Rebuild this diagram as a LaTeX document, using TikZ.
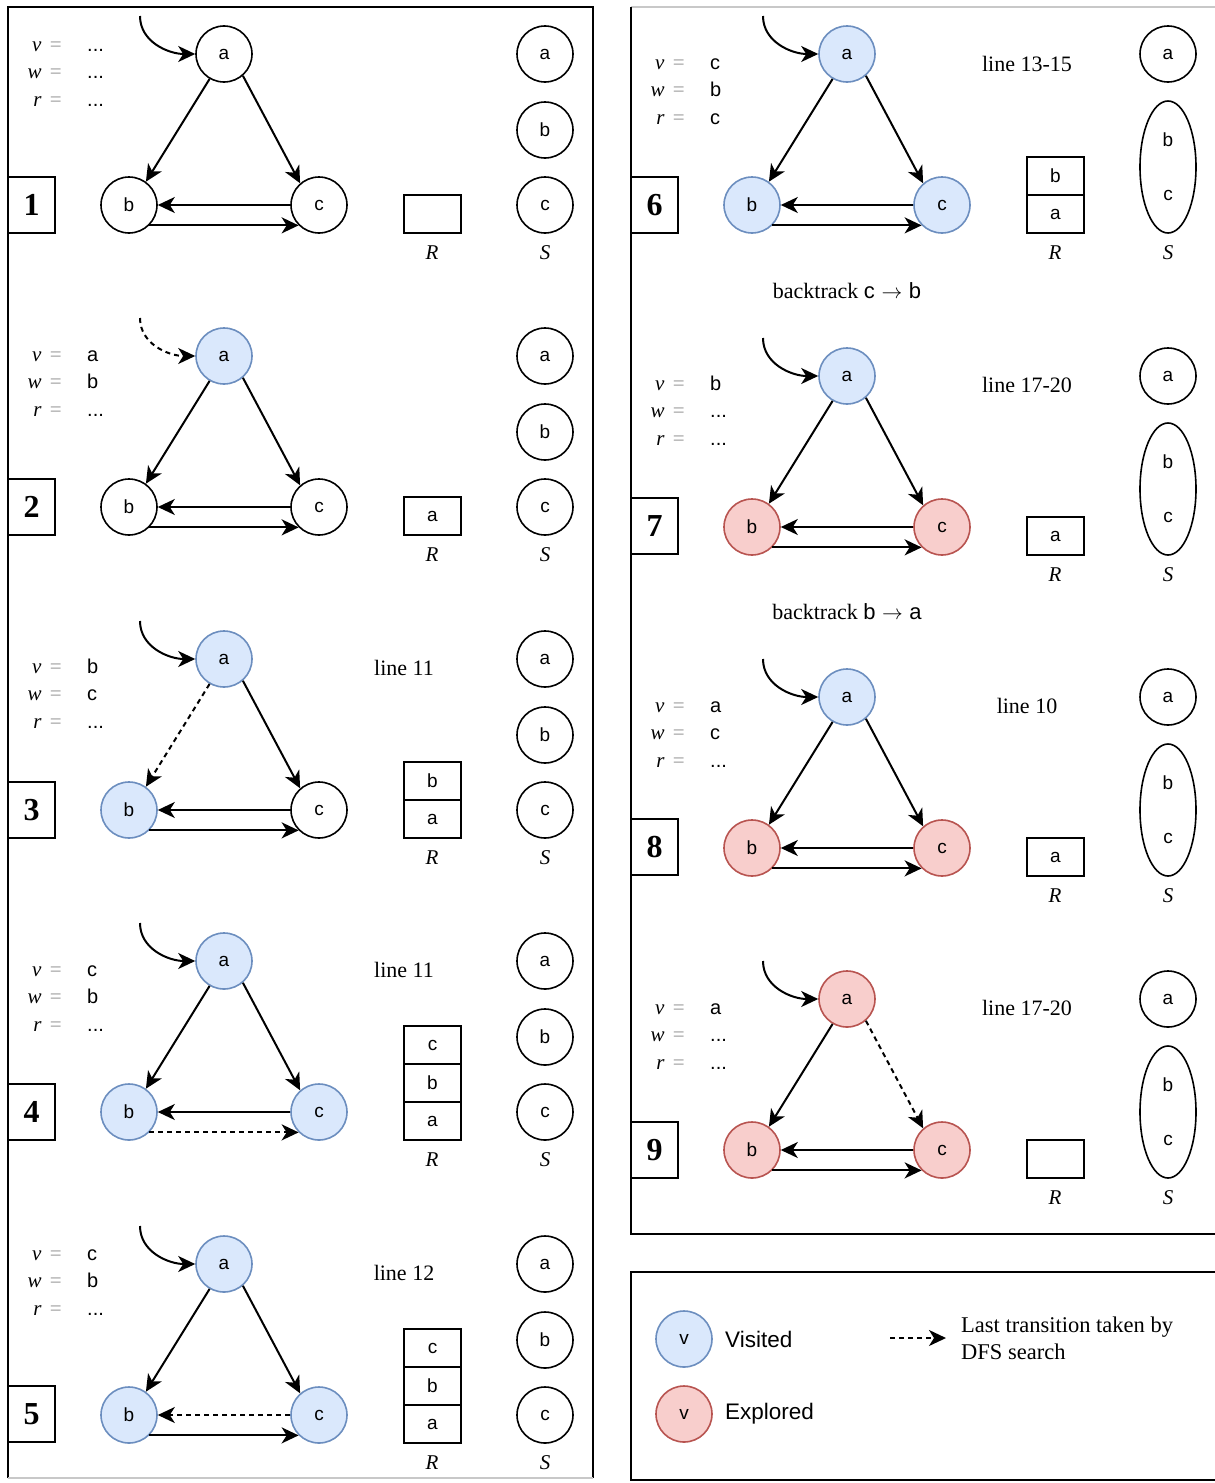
\documentclass[tikz,border=0pt]{standalone}
\usepackage{fontspec}
\setmainfont{Liberation Serif}
\setsansfont{Liberation Sans}
\usetikzlibrary{arrows.meta,shapes.geometric}

\definecolor{visfill}{HTML}{DAE8FC}
\definecolor{visline}{HTML}{6C8EBF}
\definecolor{expfill}{HTML}{F8CECC}
\definecolor{expline}{HTML}{B85450}
\definecolor{eqgray}{HTML}{9A9A9A}
\definecolor{framegray}{HTML}{C8C8C8}

\tikzset{
  vtx/.style={circle, draw, line width=1.6pt, minimum size=56pt, inner sep=0pt,
              font=\sffamily\fontsize{19}{22}\selectfont},
  visited/.style={fill=visfill, draw=visline},
  explored/.style={fill=expfill, draw=expline},
  arr/.style={line width=2pt, -{Stealth[length=17pt,width=16pt,inset=5pt]}},
  dsh/.style={dash pattern=on 5pt off 4pt},
  sta/.style={}, stb/.style={}, stc/.style={},
  eab/.style={}, eac/.style={}, ecb/.style={}, ebc/.style={}, init/.style={},
  vlab/.style={anchor=mid east, inner sep=0pt, font=\rmfamily\fontsize{21}{24}\selectfont},
  vval/.style={anchor=mid west, inner sep=0pt, font=\sffamily\fontsize{20}{22}\selectfont},
  numbox/.style={draw, line width=1.6pt, minimum width=47pt, minimum height=56pt, inner sep=0pt,
                 font=\rmfamily\bfseries\fontsize{32}{34}\selectfont},
  rcell/.style={draw, line width=1.6pt, minimum width=57pt, minimum height=38pt, inner sep=0pt,
                font=\sffamily\fontsize{19}{22}\selectfont},
  setlab/.style={inner sep=0pt, font=\rmfamily\itshape\fontsize{21}{24}\selectfont},
  sset/.style={circle, draw, line width=1.6pt, minimum size=56pt, inner sep=0pt,
               font=\sffamily\fontsize{19}{22}\selectfont},
  slist/.style={ellipse, draw, line width=1.6pt, minimum width=56pt, minimum height=132pt, inner sep=0pt},
  stxt/.style={inner sep=0pt, font=\sffamily\fontsize{19}{22}\selectfont},
  linetxt/.style={inner sep=0pt, font=\rmfamily\fontsize{22}{24}\selectfont},
  frame/.style={line width=1.8pt},
  legtxt/.style={anchor=west, inner sep=0pt, font=\sffamily\fontsize{22.5}{26}\selectfont},
}

% the graph a -> b, a -> c, b <-> c with its entry arrow
\newcommand\graphbody[1]{%
  \node[vtx,sta] (#1a) at (224,54) {a};
  \node[vtx,stb] (#1b) at (129,205) {b};
  \node[vtx,stc] (#1c) at (319,205) {c};
  \coordinate (#1s) at (140,16);
  \draw[arr,init] (#1s) to[out=-90,in=180] (#1a);
  \draw[arr,eab] (#1a.-120) -- (#1b.54);
  \draw[arr,eac] (#1a.-49) -- (#1c.131);
  \draw[arr,ecb] (#1c) -- (#1b);
  \draw[arr,ebc] (#1b.-45) -- (#1c.-135);
}

% v, w, r values: prefix, x of the "=" signs, y of first row, v, w, r
\newcommand\varblock[6]{%
  \node[vlab] (#1lv) at (#2,#3+2) {\textit{v}\hspace{0.4em}\textcolor{eqgray}{=}};
  \node[vlab] (#1lw) at (#2,#3+29.5) {\textit{w}\hspace{0.4em}\textcolor{eqgray}{=}};
  \node[vlab] (#1lr) at (#2,#3+57) {\textit{r}\hspace{0.4em}\textcolor{eqgray}{=}};
  \node[vval] (#1vv) at (#2+25,#3+2) {#4};
  \node[vval] (#1vw) at (#2+25,#3+29.5) {#5};
  \node[vval] (#1vr) at (#2+25,#3+57) {#6};
}

% S drawn as three single components a, b, c
\newcommand\sthree[2]{%
  \node[sset] (#1sa) at (545,#2+54) {a};
  \node[sset] (#1sb) at (545,#2+130) {b};
  \node[sset] (#1sc) at (545,#2+205) {c};
  \node[setlab] (#1rl) at (432,#2+253) {R};
  \node[setlab] (#1sl) at (545,#2+253) {S};
}

% S drawn as component a and component {b, c}
\newcommand\stwo[2]{%
  \node[sset] (#1sa) at (1168,#2+54) {a};
  \node[slist] (#1sbc) at (1168,#2+167) {};
  \node[stxt] (#1sb) at (1168,#2+140) {b};
  \node[stxt] (#1sc) at (1168,#2+195) {c};
  \node[setlab] (#1rl) at (1055,#2+253) {R};
  \node[setlab] (#1sl) at (1168,#2+253) {S};
}

\begin{document}
\begin{tikzpicture}[x=1pt,y=-1pt]
\useasboundingbox (0,0) rectangle (1215,1483);
\fill[white] (0,0) rectangle (1215,1483);

% panel frames
\draw[frame] (8,1478) -- (8,7) -- (593,7) -- (593,1478);
\draw[framegray, line width=1.2pt] (8,1478) -- (593,1478);
\draw[framegray, line width=1.2pt] (631,7) -- (1215,7);
\draw[frame] (631,7) -- (631,1234) -- (1216,1234);
\draw[frame] (1216,1272) -- (631,1272) -- (631,1480) -- (1216,1480);

% ---------- step 1 ----------
\begin{scope}
  \graphbody{p1}
\end{scope}
\varblock{p1}{62}{47}{...}{...}{...}
\node[numbox] (n1) at (31.5,205) {1};
\node[rcell] (p1r0) at (432.5,214) {};
\sthree{p1}{0}

% ---------- step 2 ----------
\begin{scope}[shift={(0,302)}, sta/.style={visited}, init/.style={dsh}]
  \graphbody{p2}
\end{scope}
\varblock{p2}{62}{357}{a}{b}{...}
\node[numbox] (n2) at (31.5,507) {2};
\node[rcell] (p2r1) at (432.5,516) {a};
\sthree{p2}{302}

% ---------- step 3 ----------
\begin{scope}[shift={(0,605)}, sta/.style={visited}, stb/.style={visited}, eab/.style={dsh}]
  \graphbody{p3}
\end{scope}
\varblock{p3}{62}{669}{b}{c}{...}
\node[numbox] (n3) at (31.5,810) {3};
\node[linetxt] (p3line) at (404,668) {line 11};
\node[rcell] (p3r1) at (432.5,819) {a};
\node[rcell] (p3r2) at (432.5,781) {b};
\sthree{p3}{605}

% ---------- step 4 ----------
\begin{scope}[shift={(0,907)}, sta/.style={visited}, stb/.style={visited}, stc/.style={visited}, ebc/.style={dsh}]
  \graphbody{p4}
\end{scope}
\varblock{p4}{62}{972}{c}{b}{...}
\node[numbox] (n4) at (31.5,1112) {4};
\node[linetxt] (p4line) at (404,970) {line 11};
\node[rcell] (p4r1) at (432.5,1121) {a};
\node[rcell] (p4r2) at (432.5,1083) {b};
\node[rcell] (p4r3) at (432.5,1045) {c};
\sthree{p4}{907}

% ---------- step 5 ----------
\begin{scope}[shift={(0,1210)}, sta/.style={visited}, stb/.style={visited}, stc/.style={visited}, ecb/.style={dsh}]
  \graphbody{p5}
\end{scope}
\varblock{p5}{62}{1256}{c}{b}{...}
\node[numbox] (n5) at (31.5,1414) {5};
\node[linetxt] (p5line) at (404,1273) {line 12};
\node[rcell] (p5r1) at (432.5,1424) {a};
\node[rcell] (p5r2) at (432.5,1386) {b};
\node[rcell] (p5r3) at (432.5,1348) {c};
\sthree{p5}{1210}

% ---------- step 6 ----------
\begin{scope}[shift={(623,0)}, sta/.style={visited}, stb/.style={visited}, stc/.style={visited}]
  \graphbody{p6}
\end{scope}
\varblock{p6}{685}{65}{c}{b}{c}
\node[numbox] (n6) at (654.5,205) {6};
\node[linetxt] (p6line) at (1027,64) {line 13-15};
\node[rcell] (p6r1) at (1055.5,214) {a};
\node[rcell] (p6r2) at (1055.5,176) {b};
\stwo{p6}{0}
\node[linetxt] (bt1) at (847,291) {backtrack {\sffamily c}\hspace{0.3em}$\rightarrow$\hspace{0.3em}{\sffamily b}};

% ---------- step 7 ----------
\begin{scope}[shift={(623,322)}, sta/.style={visited}, stb/.style={explored}, stc/.style={explored}]
  \graphbody{p7}
\end{scope}
\varblock{p7}{685}{386}{b}{...}{...}
\node[numbox] (n7) at (654.5,526) {7};
\node[linetxt] (p7line) at (1027,385) {line 17-20};
\node[rcell] (p7r1) at (1055.5,536) {a};
\stwo{p7}{322}
\node[linetxt] (bt2) at (847,612) {backtrack {\sffamily b}\hspace{0.3em}$\rightarrow$\hspace{0.3em}{\sffamily a}};

% ---------- step 8 ----------
\begin{scope}[shift={(623,643)}, sta/.style={visited}, stb/.style={explored}, stc/.style={explored}]
  \graphbody{p8}
\end{scope}
\varblock{p8}{685}{708}{a}{c}{...}
\node[numbox] (n8) at (654.5,847) {8};
\node[linetxt] (p8line) at (1027,706) {line 10};
\node[rcell] (p8r1) at (1055.5,857) {a};
\stwo{p8}{643}

% ---------- step 9 ----------
\begin{scope}[shift={(623,945)}, sta/.style={explored}, stb/.style={explored}, stc/.style={explored}, eac/.style={dsh}]
  \graphbody{p9}
\end{scope}
\varblock{p9}{685}{1010}{a}{...}{...}
\node[numbox] (n9) at (654.5,1150) {9};
\node[linetxt] (p9line) at (1027,1008) {line 17-20};
\node[rcell] (p9r0) at (1055.5,1159) {};
\stwo{p9}{945}

% ---------- legend ----------
\node[vtx,visited] (lgv) at (684,1339) {v};
\node[legtxt] (lgvt) at (725,1339) {Visited};
\node[vtx,explored] (lge) at (684,1414) {v};
\node[legtxt] (lget) at (725,1414) {Explored};
\coordinate (lgs) at (890,1338);
\coordinate (lgd) at (946,1338);
\draw[arr,dsh] (lgs) -- (lgd);
\node[anchor=north west, inner sep=0pt, align=left, font=\rmfamily\fontsize{22.5}{27}\selectfont]
  (lgtxt) at (961,1317) {Last transition taken by\\DFS search};
\end{tikzpicture}
\end{document}
